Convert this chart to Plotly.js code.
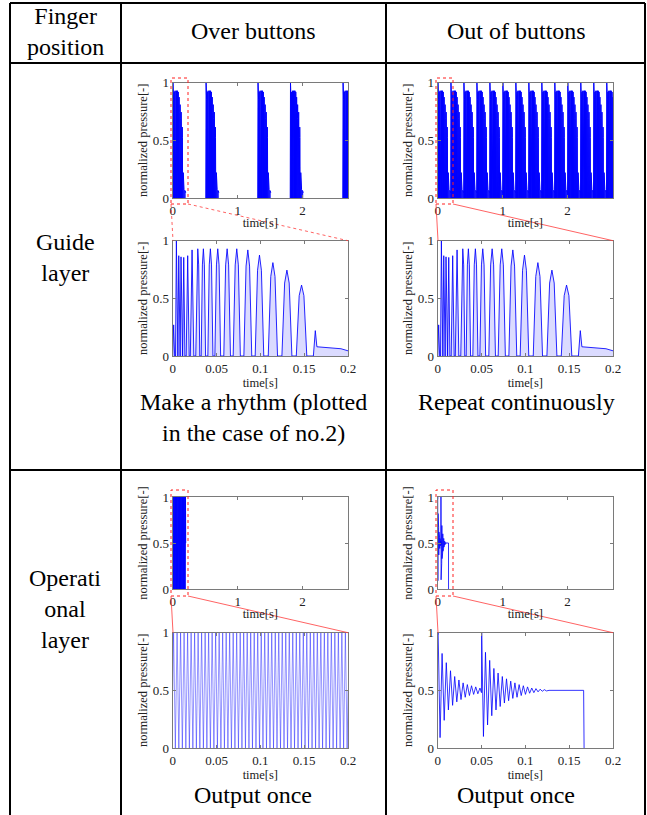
<!DOCTYPE html>
<html><head><meta charset="utf-8">
<script src="https://cdn.plot.ly/plotly-3.0.1.min.js"></script>
<style>html,body{margin:0;padding:0;background:#fff}</style>
</head><body>
<div id="chart" style="width:647px;height:815px"></div>
<script>
// ---- Guide layer: one pressure burst (read from the 0-0.2 s close-ups) ----
const guideT = [0,0.0011,0.0022,
  0.0032,0.0042,0.0052, 0.0059,0.0069,0.0079, 0.0085,0.0095,0.0105,
  0.0113,0.0126,0.0139, 0.0154,0.0171,0.0188, 0.0201,0.0221,0.0241,
  0.0263,0.02756,0.0286,0.02964,0.0309, 0.0325,0.03387,0.035,0.03613,0.0375,
  0.0401,0.0417,0.043,0.0443,0.0459, 0.0481,0.0499,0.0514,0.0529,0.0547,
  0.0583,0.0604,0.0621,0.0638,0.0659, 0.069,0.0713,0.0731,0.0749,0.0772,
  0.0812,0.0837,0.0857,0.0877,0.0902, 0.0941,0.0968,0.099,0.1012,0.1039,
  0.109,0.1119,0.1143,0.1167,0.1196, 0.1246,0.1277,0.1303,0.1329,0.136,
  0.141,0.1443,0.147,0.1497,0.153,
  0.1605,0.1627,0.1645,0.175,0.185,0.192,0.2];
const guideP = [0,0.27,0,
  0,1.0,0, 0,0.87,0, 0,0.86,0,
  0,0.855,0, 0,0.87,0, 0,0.92,0,
  0,0.79,0.93,0.79,0, 0,0.79,0.93,0.79,0,
  0,0.79,0.93,0.79,0, 0,0.79,0.93,0.79,0,
  0,0.79,0.93,0.79,0, 0,0.79,0.93,0.79,0,
  0,0.78,0.92,0.78,0, 0,0.744,0.875,0.744,0,
  0,0.69,0.81,0.69,0, 0,0.633,0.745,0.633,0,
  0,0.523,0.615,0.523,0,
  0,0.22,0.08,0.072,0.065,0.063,0.045];
// burst start times in the 0-2.7 s overviews
const guideOverStarts = [0, 0.51, 1.31, 1.81, 2.62];
const guideOutStarts = [0, 0.2, 0.4, 0.6, 0.8, 1.0, 1.2, 1.4, 1.6, 1.8, 2.0, 2.2, 2.4, 2.6];

// ---- Operational layer, over buttons ----
const opOverT = [0,0.001,0.003,0.005,0.007,0.009,0.011,0.013,0.015,0.017,0.019,0.021,0.023,0.025,0.027,0.029,0.031,0.033,0.035,0.037,0.039,0.041,0.043,0.045,0.047,0.049,0.051,0.053,0.055,0.057,0.059,0.061,0.063,0.065,0.067,0.069,0.071,0.073,0.075,0.077,0.079,0.081,0.083,0.085,0.087,0.089,0.091,0.093,0.095,0.097,0.099,0.101,0.103,0.105,0.107,0.109,0.111,0.113,0.115,0.117,0.119,0.121,0.123,0.125,0.127,0.129,0.131,0.133,0.135,0.137,0.139,0.141,0.143,0.145,0.147,0.149,0.151,0.153,0.155,0.157,0.159,0.161,0.163,0.165,0.167,0.169,0.171,0.173,0.175,0.177,0.179,0.181,0.183,0.185,0.187,0.189,0.191,0.193,0.195,0.197,0.199,0.2];
const opOverP = [0.5,1,0,1,0,1,0,1,0,1,0,1,0,1,0,1,0,1,0,1,0,1,0,1,0,1,0,1,0,1,0,1,0,1,0,1,0,1,0,1,0,1,0,1,0,1,0,1,0,1,0,1,0,1,0,1,0,1,0,1,0,1,0,1,0,1,0,1,0,1,0,1,0,1,0,1,0,1,0,1,0,1,0,1,0,1,0,1,0,1,0,1,0,1,0,1,0,1,0,1,0,0.5];

// ---- Operational layer, out of buttons (damped ringing) ----
const opOutT = [0,0.0005,0.0027,0.005,0.0074,0.0098,0.0122,0.0146,0.017,0.0194,0.0218,0.0242,0.0266,0.029,0.0314,0.0338,0.0362,0.0386,0.041,0.0434,0.0458,0.0482,0.0499,
  0.0502,0.0522,0.0545,0.0569,0.0593,0.0617,0.0641,0.0665,0.0689,0.0713,0.0737,0.0761,0.0785,0.0809,0.0833,0.0857,0.0881,0.0905,0.0929,0.0953,0.0977,0.1001,0.1025,0.1049,0.1073,0.1097,0.1121,0.1145,0.1169,0.1193,0.1217,0.1241,0.127,0.1665,0.1668,0.167];
const opOutP = [0.98,1.0,0.09,0.82,0.24,0.74,0.33,0.67,0.37,0.62,0.40,0.59,0.42,0.565,0.44,0.55,0.455,0.54,0.465,0.53,0.47,0.52,0.48,
  1.0,0.1,0.83,0.2,0.76,0.28,0.69,0.33,0.65,0.36,0.62,0.39,0.60,0.41,0.58,0.43,0.565,0.44,0.55,0.455,0.54,0.465,0.53,0.475,0.52,0.48,0.515,0.487,0.51,0.492,0.506,0.495,0.5,0.5,0.25,0];

// ---- ticks and texts ----
const overviewTickVals = [0, 1, 2];
const overviewTickText = ['0', '1', '2'];
const zoomTickVals = [0, 0.05, 0.1, 0.15, 0.2];
const zoomTickText = ['0', '0.05', '0.1', '0.15', '0.2'];
const yTickVals = [0, 0.5, 1];
const yTickText = ['0', '0.5', '1'];
const xTitle = 'time[s]';
const yTitle = 'normalized pressure[-]';
const headerTexts = ['Finger<br>position', 'Over buttons', 'Out of buttons'];
const rowTexts = ['Guide<br>layer', 'Operati<br>onal<br>layer'];
const captionTexts = ['Make a rhythm (plotted<br>in the case of no.2)', 'Repeat continuously', 'Output once', 'Output once'];

// ---- layout helpers (pixel -> paper) ----
const W = 647, H = 815;
const px = x => x / W;
const py = y => 1 - y / H;
const serif = '"Liberation Serif", "Times New Roman", serif';

const colL = [172.7, 348], colR = [437.7, 613];
const rowsY = [[82.7, 198], [240.7, 356], [497, 589], [632.7, 748]];
const panels = [
  [colL, rowsY[0], 'ov'], [colR, rowsY[0], 'ov'],
  [colL, rowsY[1], 'zm'], [colR, rowsY[1], 'zm'],
  [colL, rowsY[2], 'ov'], [colR, rowsY[2], 'ov'],
  [colL, rowsY[3], 'zm'], [colR, rowsY[3], 'zm']
];

const layout = {
  width: W, height: H, margin: {l: 0, r: 0, t: 0, b: 0},
  paper_bgcolor: '#fff', plot_bgcolor: '#fff', showlegend: false,
  font: {family: serif, color: '#000'},
  shapes: [], annotations: []
};
panels.forEach((p, i) => {
  const n = i + 1, sx = n === 1 ? '' : n;
  const isOv = p[2] === 'ov';
  const common = {
    showline: true, mirror: 'ticks', linecolor: '#7a7a7a', linewidth: 1,
    ticks: 'inside', ticklen: 3, tickcolor: '#7a7a7a', showgrid: false, zeroline: false,
    tickfont: {family: serif, size: 13, color: '#222'}, fixedrange: true
  };
  layout['xaxis' + sx] = Object.assign({}, common, {
    domain: [px(p[0][0]), px(p[0][1])], anchor: 'y' + sx,
    range: isOv ? [0, 2.7] : [0, 0.2],
    tickmode: 'array', tickvals: isOv ? overviewTickVals : zoomTickVals,
    ticktext: isOv ? overviewTickText : zoomTickText,
    title: {text: xTitle, font: {family: serif, size: 12.5, color: '#222'}, standoff: 1}
  });
  layout['yaxis' + sx] = Object.assign({}, common, {
    domain: [py(p[1][1]), py(p[1][0])], anchor: 'x' + sx,
    range: [0, 1], tickmode: 'array', tickvals: yTickVals, ticktext: yTickText,
    title: {text: yTitle, font: {family: serif, size: 12.5, color: '#222'}, standoff: 2}
  });
});

const traces = [];
function burstTraces(starts, ax) {
  starts.forEach(s => traces.push({
    type: 'scatter', mode: 'lines', xaxis: 'x' + ax, yaxis: 'y' + ax,
    x: guideT.map(t => s + t), y: guideP,
    line: {color: '#0000ff', width: 1}, fill: 'tozeroy', fillcolor: 'rgba(0,0,255,0.9)',
    hoverinfo: 'skip'
  }));
}
burstTraces(guideOverStarts, '');
burstTraces(guideOutStarts, 2);
[3, 4].forEach(ax => traces.push({
  type: 'scatter', mode: 'lines', xaxis: 'x' + ax, yaxis: 'y' + ax,
  x: guideT, y: guideP, line: {color: 'rgba(0,0,255,0.85)', width: 1},
  fill: 'tozeroy', fillcolor: 'rgba(0,0,255,0.14)', hoverinfo: 'skip'
}));
[5, 7].forEach(ax => traces.push({
  type: 'scatter', mode: 'lines', xaxis: 'x' + ax, yaxis: 'y' + ax,
  x: opOverT, y: opOverP,
  line: {color: ax === 5 ? '#0000ff' : 'rgba(0,0,255,0.7)', width: ax === 5 ? 1 : 0.6},
  hoverinfo: 'skip'
}));
[6, 8].forEach(ax => traces.push({
  type: 'scatter', mode: 'lines', xaxis: 'x' + ax, yaxis: 'y' + ax,
  x: opOutT, y: opOutP, line: {color: 'rgba(0,0,255,0.8)', width: 1},
  hoverinfo: 'skip'
}));

// ---- table grid ----
const gridLines = [
  [10, 3, 645, 3], [10, 63, 645, 63], [10, 470, 645, 470],
  [10, 3, 10, 815], [121, 3, 121, 815], [386, 3, 386, 815], [645, 3, 645, 815]
];
gridLines.forEach(g => layout.shapes.push({
  type: 'line', xref: 'paper', yref: 'paper',
  x0: px(g[0]), y0: py(g[1]), x1: px(g[2]), y1: py(g[3]),
  line: {color: '#000', width: 2}
}));

// ---- zoom markers (red dotted box + connecting lines) ----
const boxes = [
  {x: 171, y0: 78, y1: 204, zt: 240.7, zl: 173, zr: 348, dash: 'dot'},
  {x: 436, y0: 78, y1: 204, zt: 240.7, zl: 438, zr: 613, dash: 'solid'},
  {x: 171, y0: 490, y1: 596, zt: 632.7, zl: 173, zr: 348, dash: 'solid'},
  {x: 436, y0: 490, y1: 596, zt: 632.7, zl: 438, zr: 613, dash: 'solid'}
];
boxes.forEach(b => {
  layout.shapes.push({type: 'rect', xref: 'paper', yref: 'paper',
    x0: px(b.x), x1: px(b.x + 17), y0: py(b.y1), y1: py(b.y0),
    line: {color: '#ff2020', width: 1, dash: 'dot'}, fillcolor: 'rgba(0,0,0,0)'});
  layout.shapes.push({type: 'line', xref: 'paper', yref: 'paper',
    x0: px(b.x), y0: py(b.y1), x1: px(b.zl), y1: py(b.zt),
    line: {color: 'rgba(255,60,60,0.8)', width: 1, dash: b.dash}});
  layout.shapes.push({type: 'line', xref: 'paper', yref: 'paper',
    x0: px(b.x + 17), y0: py(b.y1), x1: px(b.zr), y1: py(b.zt),
    line: {color: 'rgba(255,60,60,0.8)', width: 1, dash: b.dash}});
});

// ---- table texts ----
function txt(text, x, y) {
  layout.annotations.push({text: text, xref: 'paper', yref: 'paper', x: px(x), y: py(y),
    xanchor: 'center', yanchor: 'middle', showarrow: false, align: 'center',
    font: {family: serif, size: 24, color: '#000'}});
}
txt(headerTexts[0], 65, 31);
txt(headerTexts[1], 253, 31);
txt(headerTexts[2], 516, 31);
txt(rowTexts[0], 65, 258);
txt(rowTexts[1], 65, 609);
txt(captionTexts[0], 253, 417);
txt(captionTexts[1], 516, 402);
txt(captionTexts[2], 253, 795);
txt(captionTexts[3], 516, 795);

Plotly.newPlot('chart', traces, layout, {staticPlot: true, displayModeBar: false});
</script>
</body></html>
